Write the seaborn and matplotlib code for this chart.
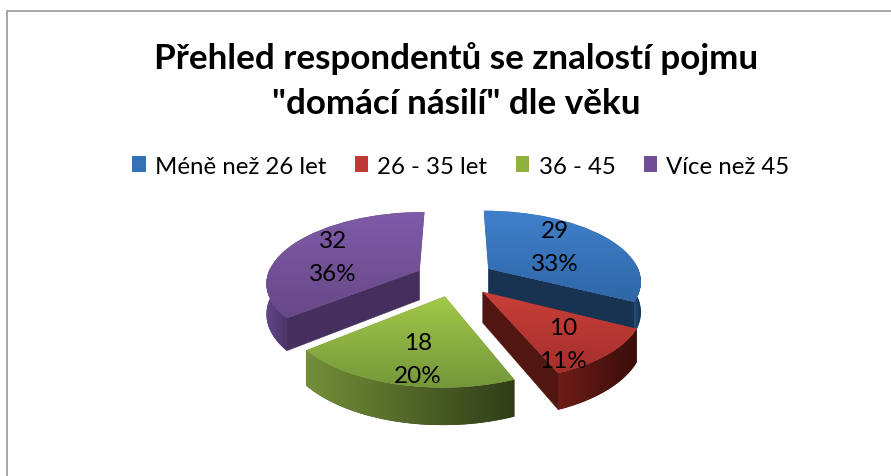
import numpy as np
import matplotlib
matplotlib.use('Agg')
import matplotlib.pyplot as plt
import seaborn as sns
from matplotlib.patches import Patch, Polygon
from matplotlib.transforms import Transform

# data
categories = ['Méně než 26 let', '26 - 35 let', '36 - 45', 'Více než 45']
values = [29, 10, 18, 32]
percents = ['33%', '11%', '20%', '36%']
title = 'Přehled respondentů se znalostí pojmu\n"domácí násilí" dle věku'

# colours, in category order
swatch_colors = ['#3572b5', '#bf3a36', '#8fb23f', '#6f4f98']
top_stops = [['#4080cc', '#2f67a6'], ['#c93f3a', '#a52f2c'],
             ['#a2c84a', '#73963a'], ['#7f5ba8', '#684887']]
rim_stops = [['#24507f', '#14304f'], ['#6e1c18', '#3a0d0a'],
             ['#748f38', '#303d18'], ['#644889', '#4a3368']]
cut_colors = ['#183252', '#51160f', '#55702a', '#452f5e']

# label centres and drawing order (back to front)
label_xy = [(555, 248), (563, 345), (418, 360), (333, 258)]
draw_order = [3, 0, 1, 2]

# pixel layout of the fake 3d pie
CX, CY = 455, 279
RX, RY = 153, 70
DEPTH = 30
PERSP = 0.16
EXPLODE = 0.26


def project(x, y, z=0.0):
    """Perspective projection of pie coordinates to figure pixels."""
    s = 1 / (1 + PERSP * y)
    return CX + RX * x * s, CY - RY * y * s + DEPTH * z * s


class PieProjection(Transform):
    input_dims = 2
    output_dims = 2

    def transform_non_affine(self, values):
        sx, sy = project(values[:, 0], values[:, 1])
        return np.column_stack([sx, sy])


def gradient_fill(ax, patch, stops, horizontal, zorder):
    """Fill a patch with a two colour gradient, clipped to its outline."""
    cmap = sns.blend_palette(stops, as_cmap=True)
    verts = patch.get_path().interpolated(8).vertices
    verts = patch.get_transform().transform(verts)
    verts = ax.transData.inverted().transform(verts)
    x0, y0 = verts.min(axis=0)
    x1, y1 = verts.max(axis=0)
    grad = np.linspace(0, 1, 128)
    grad = grad[None, :] if horizontal else grad[:, None]
    im = ax.imshow(grad, cmap=cmap, extent=(x0, x1, y1, y0), aspect='auto',
                   zorder=zorder, interpolation='bilinear')
    im.set_clip_path(patch)


sns.set_theme(style='white')
plt.rcParams['font.family'] = ['Lato', 'DejaVu Sans']

fig = plt.figure(figsize=(8.91, 4.77), dpi=100)
ax = fig.add_axes([0, 0, 1, 1])

wedges, _ = ax.pie(values, startangle=90, counterclock=False, radius=1,
                   explode=[EXPLODE] * len(values), colors=swatch_colors)

ax.set_aspect('auto')
ax.set_xlim(0, 891)
ax.set_ylim(477, 0)
ax.axis('off')

projection = PieProjection()

for n, i in enumerate(draw_order):
    w = wedges[i]
    base = 10 + n * 10
    cx, cy = w.center
    th = np.radians(np.linspace(w.theta1, w.theta2, 120))
    ax_x = cx + np.cos(th)
    ax_y = cy + np.sin(th)

    # cut faces, only the ones turned towards the viewer
    for end, normal in ((0, w.theta1 - 90), (-1, w.theta2 + 90)):
        if np.sin(np.radians(normal)) > -0.01:
            continue
        xs, ys = np.array([cx, ax_x[end]]), np.array([cy, ax_y[end]])
        tx, ty = project(xs, ys, 0.0)
        bx, by = project(xs, ys, 1.0)
        quad = np.column_stack([np.r_[tx, bx[::-1]], np.r_[ty, by[::-1]]])
        ax.add_patch(Polygon(quad, closed=True, facecolor=cut_colors[i],
                             edgecolor=cut_colors[i], lw=0.3, zorder=base))

    # outer rim, front part only
    front = np.sin(th) < 0.05
    tx, ty = project(ax_x[front], ax_y[front], 0.0)
    bx, by = project(ax_x[front], ax_y[front], 1.0)
    rim_xy = np.column_stack([np.r_[tx, bx[::-1]], np.r_[ty, by[::-1]]])
    rim = Polygon(rim_xy, closed=True, facecolor=rim_stops[i][1],
                  edgecolor='none', zorder=base + 1)
    ax.add_patch(rim)
    gradient_fill(ax, rim, rim_stops[i], True, base + 2)

    # top face is the pie wedge itself
    w.set_transform(projection + ax.transData)
    w.set_facecolor(top_stops[i][1])
    w.set_edgecolor('none')
    w.set_zorder(base + 3)
    gradient_fill(ax, w, top_stops[i], False, base + 4)

for i in range(len(values)):
    x, y = label_xy[i]
    ax.text(x, y, f'{values[i]}\n{percents[i]}', ha='center', va='center',
            fontsize=17.5, color='black', linespacing=1.65, zorder=100)

ax.text(456, 81, title, ha='center', va='center', fontsize=25.2,
        fontweight='bold', color='black', linespacing=1.5)

handles = [Patch(facecolor=c, edgecolor='none') for c in swatch_colors]
ax.legend(handles, categories, ncol=4, loc='center',
          bbox_to_anchor=(461 / 891, 1 - 167 / 477), frameon=False, fontsize=17.3,
          handlelength=0.55, handleheight=0.65, handletextpad=0.38,
          columnspacing=1.2, borderpad=0, labelcolor='black')

# chart frame, cut off at the right and bottom
ax.plot([7, 7, 891], [477, 12, 12], color='#a0a0a0', lw=1.3, zorder=1,
        solid_joinstyle='miter')

fig.savefig('out.png', dpi=100, facecolor='white')
